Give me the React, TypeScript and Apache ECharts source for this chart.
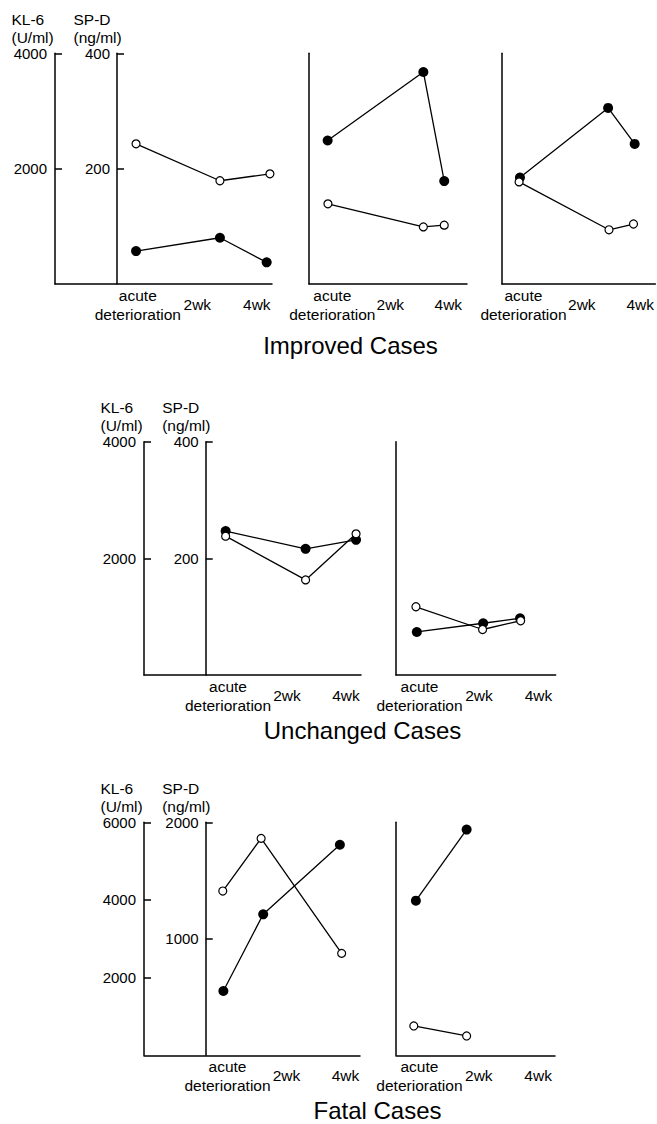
import React, { useEffect, useRef } from 'react';
import * as echarts from 'echarts';

const FONT = '"Liberation Sans", Arial, Helvetica, sans-serif';

// x-axis tick labels (time in weeks)
const timeLabelWeeks = [0, 2, 4];
const timeLabels = ['acute\ndeterioration', '2wk', '4wk'];

// y-axis tick values
const kl6Ticks4000 = [2000, 4000];
const spdTicks400 = [200, 400];
const kl6Ticks6000 = [2000, 4000, 6000];
const spdTicks2000 = [1000, 2000];

// ---- Improved cases ----
const imp1Kl6 = [571, 802, 376];
const imp1Kl6Wk = [-0.06, 2.76, 4.33];
const imp1Spd = [243, 179, 191];
const imp1SpdWk = [-0.06, 2.76, 4.44];

const imp2Kl6 = [2488, 3676, 1784];
const imp2Kl6Wk = [-0.16, 3.14, 3.86];
const imp2Spd = [139, 99, 102];
const imp2SpdWk = [-0.15, 3.14, 3.86];

const imp3Kl6 = [1847, 3053, 2429];
const imp3Kl6Wk = [-0.12, 2.9, 3.81];
const imp3Spd = [177, 94, 104];
const imp3SpdWk = [-0.15, 2.93, 3.77];

// ---- Unchanged cases ----
const unc1Kl6 = [2467, 2163, 2318];
const unc1Kl6Wk = [-0.08, 2.63, 4.34];
const unc1Spd = [238, 163, 242];
const unc1SpdWk = [-0.08, 2.63, 4.34];

const unc2Kl6 = [738, 887, 973];
const unc2Kl6Wk = [-0.09, 2.14, 3.38];
const unc2Spd = [117, 78, 93];
const unc2SpdWk = [-0.12, 2.12, 3.4];

// ---- Fatal cases ----
const fat1Kl6 = [1656, 3631, 5423];
const fat1Kl6Wk = [-0.14, 1.21, 3.81];
const fat1Spd = [1410, 1862, 875];
const fat1SpdWk = [-0.16, 1.14, 3.87];

const fat2Kl6 = [3981, 5812];
const fat2Kl6Wk = [-0.12, 1.59];
const fat2Spd = [252, 166];
const fat2SpdWk = [-0.19, 1.59];

const sectionTitles = ['Improved Cases', 'Unchanged Cases', 'Fatal Cases'];

type Panel = {
  left: number; top: number; width: number; height: number;
  xMin: number; xMax: number;
  kl6Max: number; spdMax: number;
  kl6Ticks: number[]; spdTicks: number[];
  scale: boolean; spdOffset: number;
  kl6: number[]; kl6Wk: number[]; spd: number[]; spdWk: number[];
};

const panels: Panel[] = [
  { left: 55, top: 53.3, width: 217, height: 230.7, xMin: -2.784, xMax: 4.51, kl6Max: 4000, spdMax: 400, kl6Ticks: kl6Ticks4000, spdTicks: spdTicks400, scale: true, spdOffset: 62, kl6: imp1Kl6, kl6Wk: imp1Kl6Wk, spd: imp1Spd, spdWk: imp1SpdWk },
  { left: 309, top: 53.3, width: 158, height: 230.7, xMin: -0.803, xMax: 4.645, kl6Max: 4000, spdMax: 400, kl6Ticks: kl6Ticks4000, spdTicks: spdTicks400, scale: false, spdOffset: 0, kl6: imp2Kl6, kl6Wk: imp2Kl6Wk, spd: imp2Spd, spdWk: imp2SpdWk },
  { left: 502, top: 53.3, width: 155, height: 230.7, xMin: -0.735, xMax: 4.52, kl6Max: 4000, spdMax: 400, kl6Ticks: kl6Ticks4000, spdTicks: spdTicks400, scale: false, spdOffset: 0, kl6: imp3Kl6, kl6Wk: imp3Kl6Wk, spd: imp3Spd, spdWk: imp3SpdWk },
  { left: 144, top: 441.7, width: 217, height: 233.3, xMin: -2.847, xMax: 4.508, kl6Max: 4000, spdMax: 400, kl6Ticks: kl6Ticks4000, spdTicks: spdTicks400, scale: true, spdOffset: 61.7, kl6: unc1Kl6, kl6Wk: unc1Kl6Wk, spd: unc1Spd, spdWk: unc1SpdWk },
  { left: 396, top: 441.7, width: 159.7, height: 233.3, xMin: -0.79, xMax: 4.578, kl6Max: 4000, spdMax: 400, kl6Ticks: kl6Ticks4000, spdTicks: spdTicks400, scale: false, spdOffset: 0, kl6: unc2Kl6, kl6Wk: unc2Kl6Wk, spd: unc2Spd, spdWk: unc2SpdWk },
  { left: 144, top: 822.3, width: 216, height: 233, xMin: -2.831, xMax: 4.492, kl6Max: 6000, spdMax: 2000, kl6Ticks: kl6Ticks6000, spdTicks: spdTicks2000, scale: true, spdOffset: 61.7, kl6: fat1Kl6, kl6Wk: fat1Kl6Wk, spd: fat1Spd, spdWk: fat1SpdWk },
  { left: 396, top: 822.3, width: 159, height: 233, xMin: -0.79, xMax: 4.568, kl6Max: 6000, spdMax: 2000, kl6Ticks: kl6Ticks6000, spdTicks: spdTicks2000, scale: false, spdOffset: 0, kl6: fat2Kl6, kl6Wk: fat2Kl6Wk, spd: fat2Spd, spdWk: fat2SpdWk },
];

const titlePos = [
  [350.5, 345],
  [362.5, 730],
  [377.5, 1110.5],
];

const zip = (xs: number[], ys: number[]) => xs.map((x, i) => [x, ys[i]]);

function buildOption() {
  const axisLine = { show: true, onZero: false, lineStyle: { color: '#000', width: 1.5 } };
  const grid = panels.map((p) => ({ left: p.left, top: p.top, width: p.width, height: p.height, containLabel: false }));
  const xAxis = panels.map((p, i) => ({
    type: 'value', gridIndex: i, min: p.xMin, max: p.xMax,
    axisLine, axisTick: { show: false }, splitLine: { show: false },
    axisLabel: {
      customValues: timeLabelWeeks,
      formatter: (v: number) => {
        const k = timeLabelWeeks.findIndex((w) => Math.abs(w - v) < 1e-6);
        return k >= 0 ? timeLabels[k] : '';
      },
      verticalAlign: 'middle', margin: 20.5, lineHeight: 19,
      fontSize: 15.5, color: '#000', fontFamily: FONT,
    },
  }));
  const yAxis: any[] = [];
  panels.forEach((p, i) => {
    const labelStyle = { fontSize: 15, color: '#000', fontFamily: FONT, margin: 8, formatter: (v: number) => String(v) };
    yAxis.push({
      type: 'value', gridIndex: i, position: 'left', min: 0, max: p.kl6Max,
      axisLine, splitLine: { show: false },
      axisTick: { show: p.scale, inside: true, length: 7, customValues: p.kl6Ticks, lineStyle: { color: '#000', width: 1.5 } },
      axisLabel: { show: p.scale, customValues: p.kl6Ticks, ...labelStyle },
    });
    yAxis.push({
      type: 'value', gridIndex: i, position: 'left', offset: -p.spdOffset, show: p.scale,
      min: 0, max: p.spdMax,
      axisLine, splitLine: { show: false },
      axisTick: { show: true, inside: true, length: 7, customValues: p.spdTicks, lineStyle: { color: '#000', width: 1.5 } },
      axisLabel: { show: true, customValues: p.spdTicks, ...labelStyle, margin: 7 },
    });
  });
  const series: any[] = [];
  panels.forEach((p, i) => {
    series.push({
      type: 'line', xAxisIndex: i, yAxisIndex: 2 * i, data: zip(p.kl6Wk, p.kl6),
      symbol: 'circle', symbolSize: 10, itemStyle: { color: '#000' },
      lineStyle: { color: '#000', width: 1.3 }, silent: true, z: 2,
    });
    series.push({
      type: 'line', xAxisIndex: i, yAxisIndex: 2 * i + 1, data: zip(p.spdWk, p.spd),
      symbol: 'circle', symbolSize: 8, itemStyle: { color: '#fff', borderColor: '#000', borderWidth: 1.2 },
      lineStyle: { color: '#000', width: 1.3 }, silent: true, z: 3,
    });
  });
  const graphic: any[] = [];
  panels.forEach((p) => {
    if (!p.scale) return;
    const kx = p.left - 43.5;
    const sx = p.left + p.spdOffset - 43.5;
    const y1 = p.top - 34;
    const y2 = p.top - 16;
    const st = (text: string) => ({ text, font: `15.5px ${FONT}`, fill: '#000', textAlign: 'left', textVerticalAlign: 'middle' });
    graphic.push({ type: 'text', x: kx, y: y1, style: st('KL-6'), silent: true });
    graphic.push({ type: 'text', x: kx, y: y2, style: st('(U/ml)'), silent: true });
    graphic.push({ type: 'text', x: sx, y: y1, style: st('SP-D'), silent: true });
    graphic.push({ type: 'text', x: sx, y: y2, style: st('(ng/ml)'), silent: true });
  });
  sectionTitles.forEach((t, i) => {
    graphic.push({
      type: 'text', x: titlePos[i][0], y: titlePos[i][1], silent: true,
      style: { text: t, font: `24px ${FONT}`, fill: '#000', textAlign: 'center', textVerticalAlign: 'middle' },
    });
  });
  return { animation: false, backgroundColor: '#fff', grid, xAxis, yAxis, series, graphic };
}

export default function App() {
  const ref = useRef<HTMLDivElement>(null);
  useEffect(() => {
    if (!ref.current) return;
    const chart = echarts.init(ref.current, undefined, { renderer: 'svg' });
    chart.setOption(buildOption() as any);
    return () => chart.dispose();
  }, []);
  return <div ref={ref} style={{ position: 'absolute', left: 0, top: 0, width: 657, height: 1124 }} />;
}
